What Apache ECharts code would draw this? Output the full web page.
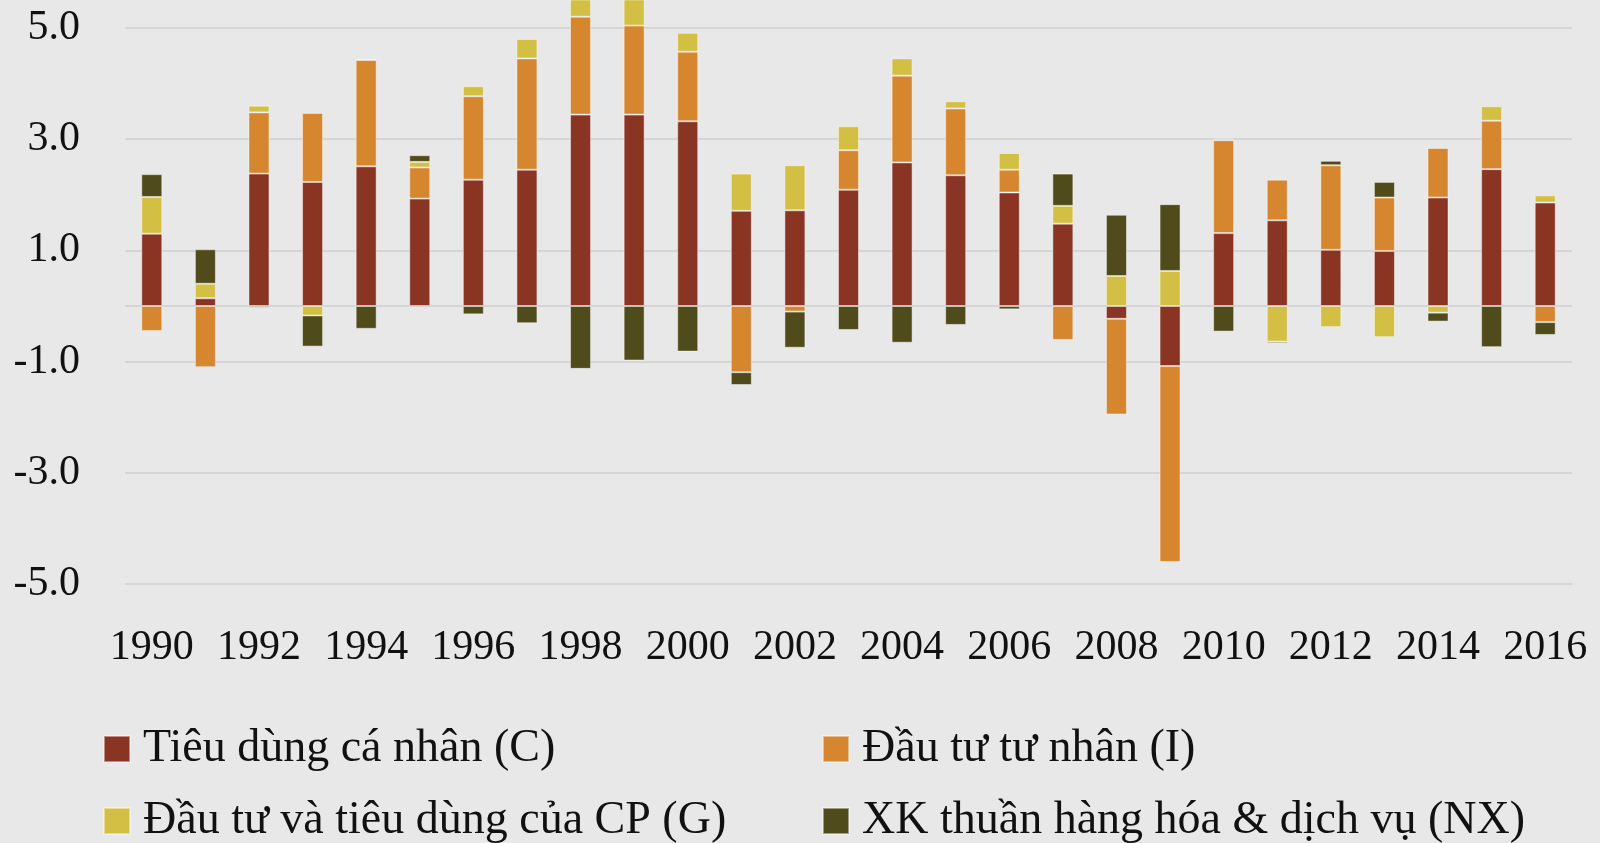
<!DOCTYPE html>
<html>
<head>
<meta charset="utf-8">
<script src="https://cdn.jsdelivr.net/npm/echarts@6/dist/echarts.min.js"></script>
<style>
  html, body { margin: 0; padding: 0; background: #e8e8e8; }
  #chart { width: 1600px; height: 843px; }
</style>
</head>
<body>
<div id="chart"></div>
<script>
// số liệu
var years = ['1990', '1991', '1992', '1993', '1994', '1995', '1996', '1997', '1998', '1999',
    '2000', '2001', '2002', '2003', '2004', '2005', '2006', '2007', '2008', '2009',
    '2010', '2011', '2012', '2013', '2014', '2015', '2016'];

var tieuDung = [1.30, 0.14, 2.38, 2.23, 2.51, 1.93, 2.27, 2.45, 3.44, 3.44,
    3.32, 1.71, 1.72, 2.09, 2.58, 2.35, 2.04, 1.48, -0.23, -1.08,
    1.31, 1.54, 1.01, 0.99, 1.95, 2.46, 1.86];
var dauTuTuNhan = [-0.45, -1.10, 1.10, 1.24, 1.91, 0.56, 1.50, 2.00, 1.76, 1.60,
    1.25, -1.19, -0.10, 0.71, 1.56, 1.20, 0.41, -0.61, -1.72, -3.52,
    1.67, 0.73, 1.52, 0.96, 0.89, 0.87, -0.29];
var chinhPhu = [0.66, 0.26, 0.12, -0.17, 0.02, 0.10, 0.18, 0.35, 0.45, 0.60,
    0.34, 0.67, 0.81, 0.43, 0.31, 0.13, 0.30, 0.32, 0.54, 0.63,
    0.03, -0.64, -0.38, -0.56, -0.12, 0.26, 0.13];
var xuatKhau = [0.41, 0.62, -0.03, -0.56, -0.41, 0.12, -0.15, -0.31, -1.13, -0.98,
    -0.82, -0.23, -0.65, -0.43, -0.66, -0.34, -0.06, 0.58, 1.10, 1.20,
    -0.46, -0.03, 0.08, 0.28, -0.16, -0.74, -0.23];

var gridLines = [5, 3, 1, 0, -1, -3, -5];

var names = ['Tiêu dùng cá nhân (C)', 'Đầu tư tư nhân (I)',
    'Đầu tư và tiêu dùng của CP (G)', 'XK thuần hàng hóa & dịch vụ (NX)'];
var colors = ['#8a3424', '#d6862e', '#d2bf43', '#504b1a'];

var myChart = echarts.init(document.getElementById('chart'));
var font = 'Liberation Serif';

function barSeries(i, data) {
    return {
        name: names[i],
        type: 'bar',
        stack: 'gdp',
        barWidth: 21,
        z: 3,
        itemStyle: {
            color: colors[i],
            borderColor: 'rgba(255,255,255,0.45)',
            borderWidth: 1
        },
        data: data
    };
}

// mỗi mục chú thích đặt riêng
function legendItem(i, left, top) {
    return {
        data: [names[i]],
        left: left, top: top,
        icon: 'rect',
        itemWidth: 26, itemHeight: 26,
        textStyle: {
            fontFamily: font, fontSize: 46, lineHeight: 50, color: '#111',
            padding: [0, 0, 0, 8]
        }
    };
}

var option = {
    backgroundColor: '#e8e8e8',
    animation: false,
    grid: { left: 125, right: 28, top: 0, height: 612 },
    legend: [
        legendItem(0, 98, 719),
        legendItem(1, 817, 719),
        legendItem(2, 98, 791),
        legendItem(3, 817, 791)
    ],
    xAxis: {
        type: 'category',
        data: years,
        axisLine: { show: false },
        axisTick: { show: false },
        axisLabel: {
            interval: 1,
            margin: 15,
            fontFamily: font,
            fontSize: 42,
            color: '#111'
        }
    },
    yAxis: {
        type: 'value',
        min: -5.5,
        max: 5.5,
        interval: 0.5,
        splitLine: { show: false },
        axisLine: { show: false },
        axisTick: { show: false },
        axisLabel: {
            margin: 45,
            fontFamily: font,
            fontSize: 42,
            color: '#111',
            formatter: function (v) {
                // chỉ hiện số lẻ
                if (Math.abs(v % 2) === 1) return v.toFixed(1);
                return '';
            }
        }
    },
    series: [
        {
            name: 'grid',
            type: 'line',
            data: [],
            z: 0,
            silent: true,
            markLine: {
                silent: true,
                z: 1,
                symbol: 'none',
                label: { show: false },
                lineStyle: { color: '#d5d5d5', width: 2, type: 'solid' },
                data: gridLines.map(function (v) { return { yAxis: v }; })
            }
        },
        barSeries(0, tieuDung),
        barSeries(1, dauTuTuNhan),
        barSeries(2, chinhPhu),
        barSeries(3, xuatKhau)
    ]
};
myChart.setOption(option);
</script>
</body>
</html>
